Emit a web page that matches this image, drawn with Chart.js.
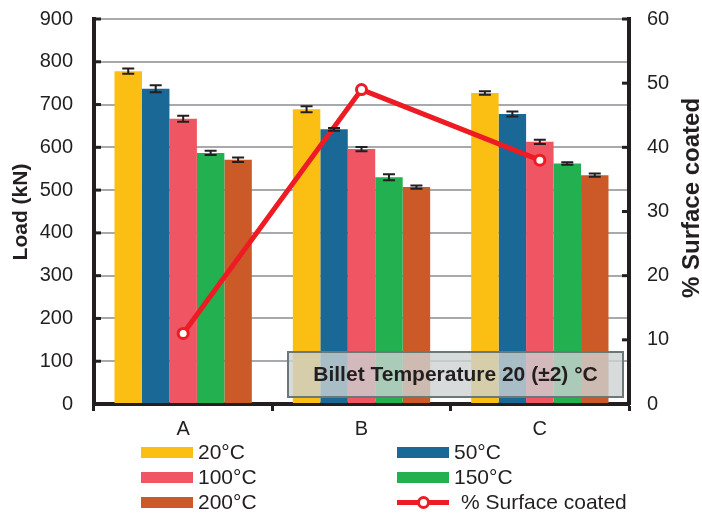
<!doctype html>
<html>
<head>
    <meta charset="utf-8" />
    <style>
        html, body { margin: 0; padding: 0; background: #ffffff; }
        .wrap { position: relative; width: 702px; height: 514px; font-family: "Liberation Sans", Arial, sans-serif; color: #231f20; }
        #legend { position: absolute; left: 0; top: 0; width: 702px; height: 514px; pointer-events: none; }
        .item { position: absolute; display: flex; align-items: center; font-size: 21px; line-height: 24px; height: 24px; white-space: nowrap; }
        .swatch { width: 52px; height: 11px; margin-right: 5px; }
        .lineSwatch { position: relative; width: 52px; height: 11px; margin-right: 12px; }
        .lineSwatch .ln { position: absolute; left: 0; top: 3px; width: 52px; height: 5px; background: #ed1c24; }
        .lineSwatch .pt { position: absolute; left: 20px; top: -1px; width: 7px; height: 7px; border: 3px solid #ed1c24; border-radius: 50%; background: #fff; }
    </style>
    <title>Load and surface coated</title>
</head>
<body>
    <div class="wrap">
        <canvas id="chart" width="702" height="514"></canvas>
        <div id="legend"></div>
    </div>

    <script src="https://cdn.jsdelivr.net/npm/chart.js@4"></script>
    <script>
        // data
        const categories = ['A', 'B', 'C'];
        const temps = ['20°C', '50°C', '100°C', '150°C', '200°C'];
        const load20 = [778, 689, 727];
        const load50 = [737, 642, 678];
        const load100 = [667, 596, 613];
        const load150 = [587, 530, 562];
        const load200 = [571, 507, 535];
        const err20 = [6, 7, 4];
        const err50 = [8, 3, 6];
        const err100 = [7, 5, 5];
        const err150 = [5, 7, 3];
        const err200 = [5, 4, 4];
        const surfaceCoated = [11, 49, 38];
        const boxLabel = 'Billet Temperature 20 (±2) °C';

        const barColors = ['#fbbf13', '#1a6896', '#f05564', '#22b050', '#cc5a28'];
        const loads = [load20, load50, load100, load150, load200];
        const errs = [err20, err50, err100, err150, err200];
        const ink = '#231f20';
        const font = '"Liberation Sans", Arial, sans-serif';

        const datasets = temps.map((t, i) => ({
            type: 'bar',
            label: t,
            data: loads[i],
            errors: errs[i],
            backgroundColor: barColors[i],
            borderWidth: 0,
            yAxisID: 'y',
            order: 1,
            barPercentage: 1,
            categoryPercentage: 0.77
        }));
        datasets.push({
            type: 'line',
            label: '% Surface coated',
            data: surfaceCoated,
            yAxisID: 'y1',
            borderColor: '#ed1c24',
            borderWidth: 5,
            pointRadius: 5,
            pointBorderWidth: 3,
            pointBackgroundColor: '#ffffff',
            pointBorderColor: '#ed1c24',
            tension: 0,
            order: 0
        });

        // error bars on top of the bars
        const errorBars = {
            id: 'errorBars',
            afterDatasetsDraw(chart) {
                const ctx = chart.ctx;
                const y = chart.scales.y;
                ctx.save();
                ctx.strokeStyle = ink;
                ctx.lineWidth = 2;
                chart.data.datasets.forEach((ds, di) => {
                    if (!ds.errors) return;
                    chart.getDatasetMeta(di).data.forEach((bar, i) => {
                        const top = y.getPixelForValue(ds.data[i] + ds.errors[i]);
                        const bot = y.getPixelForValue(ds.data[i] - ds.errors[i]);
                        ctx.beginPath();
                        ctx.moveTo(bar.x, top); ctx.lineTo(bar.x, bot);
                        ctx.moveTo(bar.x - 6, top); ctx.lineTo(bar.x + 6, top);
                        ctx.moveTo(bar.x - 6, bot); ctx.lineTo(bar.x + 6, bot);
                        ctx.stroke();
                    });
                });
                ctx.restore();
            }
        };

        // inward tick marks, axis titles and the label box
        const extras = {
            id: 'extras',
            afterDraw(chart) {
                const ctx = chart.ctx;
                const a = chart.chartArea;
                ctx.save();
                ctx.fillStyle = ink;
                chart.scales.y.ticks.forEach(t => {
                    const py = chart.scales.y.getPixelForValue(t.value);
                    ctx.fillRect(a.left, py - 1.5, 7, 3);
                });
                chart.scales.y1.ticks.forEach(t => {
                    const py = chart.scales.y1.getPixelForValue(t.value);
                    ctx.fillRect(a.right - 7, py - 1.5, 7, 3);
                });

                // axis titles, both read bottom to top
                ctx.textAlign = 'center';
                ctx.textBaseline = 'middle';
                ctx.font = 'bold 21px ' + font;
                ctx.save();
                ctx.translate(21, 212);
                ctx.rotate(-Math.PI / 2);
                ctx.fillText('Load (kN)', 0, 0);
                ctx.restore();
                ctx.font = 'bold 24px ' + font;
                ctx.save();
                ctx.translate(692, 198);
                ctx.rotate(-Math.PI / 2);
                ctx.fillText('% Surface coated', 0, 0);
                ctx.restore();

                const bx = a.right - 341, by = a.bottom - 52, bw = 335, bh = 45;
                ctx.fillStyle = 'rgba(205,210,210,0.8)';
                ctx.fillRect(bx, by, bw, bh);
                ctx.strokeStyle = '#6b7878';
                ctx.lineWidth = 2;
                ctx.strokeRect(bx, by, bw, bh);
                ctx.fillStyle = ink;
                ctx.font = 'bold 21px ' + font;
                ctx.fillText(boxLabel, bx + bw / 2, by + bh / 2 + 1);
                ctx.restore();
            }
        };

        function fitVertical(width) {
            return function (s) {
                s.width = width;
                s.paddingTop = 0;
                s.paddingBottom = 0;
            };
        }

        const chart = new Chart(document.getElementById('chart').getContext('2d'), {
            data: { labels: categories, datasets: datasets },
            options: {
                responsive: false,
                animation: false,
                layout: { padding: { top: 19, left: 0, right: 0, bottom: 0 } },
                plugins: { legend: { display: false }, tooltip: { enabled: false } },
                scales: {
                    x: {
                        grid: { offset: true, drawOnChartArea: false, drawTicks: true, tickLength: 7, tickColor: ink, tickWidth: 3 },
                        border: { color: ink, width: 4 },
                        ticks: { color: ink, font: { family: font, size: 20 }, padding: 6 },
                        afterFit(s) { s.height = 110; s.paddingLeft = 0; s.paddingRight = 0; }
                    },
                    y: {
                        position: 'left',
                        min: 0, max: 900,
                        ticks: { stepSize: 100, color: ink, font: { family: font, size: 20 }, padding: 21 },
                        grid: { color: '#a7a9ac', lineWidth: 2, drawTicks: false },
                        border: { color: ink, width: 4 },
                        afterFit: fitVertical(94)
                    },
                    y1: {
                        position: 'right',
                        min: 0, max: 60,
                        ticks: { stepSize: 10, color: ink, font: { family: font, size: 20 }, padding: 18 },
                        grid: { drawOnChartArea: false, drawTicks: false },
                        border: { color: ink, width: 4 },
                        afterFit: fitVertical(73)
                    }
                }
            },
            plugins: [errorBars, extras]
        });

        // two-column legend below the axis
        const legendPos = [
            [141, 440], [397, 440],
            [141, 465], [397, 465],
            [141, 490], [397, 490]
        ];
        const legendEl = document.getElementById('legend');
        chart.data.datasets.forEach((ds, i) => {
            const item = document.createElement('div');
            item.className = 'item';
            item.style.left = legendPos[i][0] + 'px';
            item.style.top = legendPos[i][1] + 'px';
            if (ds.type === 'bar') {
                item.innerHTML = '<span class="swatch" style="background:' + ds.backgroundColor + '"></span>';
            } else {
                item.innerHTML = '<span class="lineSwatch"><span class="ln"></span><span class="pt"></span></span>';
            }
            const txt = document.createElement('span');
            txt.textContent = ds.label;
            item.appendChild(txt);
            legendEl.appendChild(item);
        });
    </script>
</body>
</html>
